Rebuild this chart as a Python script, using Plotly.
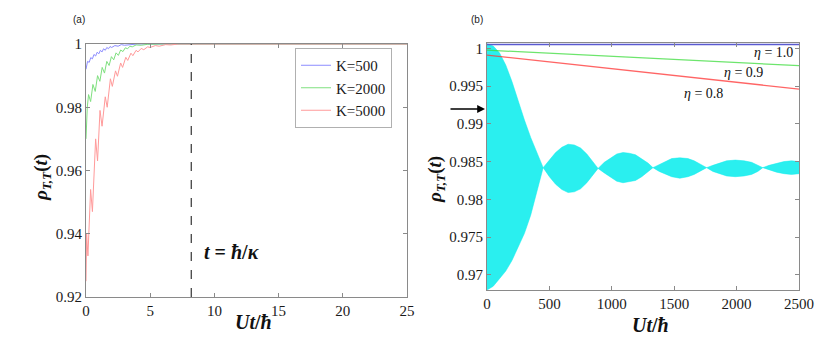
import plotly.graph_objects as go

# ---- panel (a): rho_TT(t) for three K values ----
t_k500 = [0, 0.12, 0.25, 0.37, 0.5, 0.62, 0.75, 0.87, 1.0, 1.12, 1.25, 1.37, 1.5, 1.62,
          1.75, 1.87, 2.0, 2.25, 2.5, 2.75, 3.0, 3.5, 4.0, 25]
rho_k500 = [0.9920, 0.9945, 0.9942, 0.9957, 0.9953, 0.9967, 0.9962, 0.9974, 0.9969, 0.9980,
            0.9975, 0.9985, 0.9980, 0.9989, 0.9985, 0.9992, 0.9989, 0.9995, 0.9993, 0.9998,
            0.9996, 0.9999, 1.0, 1.0]

t_k2000 = [0, 0.1, 0.2, 0.36, 0.54, 0.72, 0.9, 1.08, 1.26, 1.44, 1.62, 1.8, 1.98, 2.16,
           2.34, 2.52, 2.7, 2.88, 3.06, 3.24, 3.42, 3.6, 3.9, 4.3, 4.8, 6.0, 25]
rho_k2000 = [0.9700, 0.9800, 0.9840, 0.9818, 0.9872, 0.9850, 0.9900, 0.9882, 0.9926, 0.9908,
             0.9945, 0.9932, 0.9960, 0.9950, 0.9972, 0.9964, 0.9981, 0.9976, 0.9988, 0.9985,
             0.9993, 0.9991, 0.9997, 0.9996, 0.9999, 1.0, 1.0]

t_k5000 = [0, 0.05, 0.15, 0.36, 0.5, 0.75, 0.9, 1.09, 1.25, 1.5, 1.65, 1.9, 2.05, 2.3, 2.45,
           2.7, 2.85, 3.1, 3.25, 3.5, 3.65, 3.9, 4.05, 4.3, 4.5, 4.8, 5.0, 5.4, 5.7, 6.2,
           6.6, 7.2, 25]
rho_k5000 = [0.9250, 0.9400, 0.9330, 0.9540, 0.9470, 0.9700, 0.9630, 0.9790, 0.9740, 0.9833,
             0.9800, 0.9890, 0.9866, 0.9915, 0.9898, 0.9940, 0.9926, 0.9958, 0.9948, 0.9971,
             0.9963, 0.9980, 0.9975, 0.9986, 0.9982, 0.9991, 0.9989, 0.9995, 0.9993, 0.9998,
             0.9997, 1.0, 1.0]

T_KAPPA = 8.2

# ---- panel (b): envelope of the fast oscillation and eta lines ----
t_env = [0, 50, 100, 150, 200, 250, 300, 350, 400, 450,
         500, 550, 600, 650, 700, 750, 800, 850, 890,
         940, 990, 1040, 1090, 1140, 1190, 1240, 1290, 1330,
         1380, 1430, 1480, 1545, 1610, 1660, 1710, 1760,
         1810, 1860, 1920, 1990, 2060, 2120, 2170, 2210,
         2260, 2320, 2380, 2440, 2500]
rho_upper = [1.0006, 1.0003, 0.9994, 0.9978, 0.9956, 0.9930, 0.9905, 0.9882, 0.9862, 0.9842,
             0.9852, 0.9862, 0.9869, 0.9873, 0.9872, 0.9868, 0.9860, 0.9850, 0.9841,
             0.9849, 0.9855, 0.9860, 0.9862, 0.9861, 0.9859, 0.9854, 0.9848, 0.9842,
             0.9846, 0.9850, 0.9854, 0.9855, 0.9854, 0.9851, 0.9847, 0.9842,
             0.9845, 0.9848, 0.9851, 0.9852, 0.9851, 0.9849, 0.9845, 0.9842,
             0.9845, 0.9848, 0.9850, 0.9851, 0.9850]
rho_lower = [0.9680, 0.9685, 0.9695, 0.9705, 0.9719, 0.9736, 0.9755, 0.9779, 0.9810, 0.9842,
             0.9830, 0.9820, 0.9813, 0.9809, 0.9810, 0.9814, 0.9822, 0.9832, 0.9841,
             0.9835, 0.9829, 0.9824, 0.9822, 0.9823, 0.9825, 0.9830, 0.9836, 0.9842,
             0.9837, 0.9833, 0.9830, 0.9828, 0.9830, 0.9833, 0.9837, 0.9842,
             0.9837, 0.9834, 0.9831, 0.9830, 0.9831, 0.9833, 0.9837, 0.9842,
             0.9839, 0.9836, 0.9834, 0.9833, 0.9834]

t_eta = [0, 2500]
rho_eta10 = [1.0005, 1.0005]
rho_eta09 = [0.99975, 0.9977]
rho_eta08 = [0.9991, 0.9946]

SERIF = "'Liberation Serif', 'Times New Roman', Times, serif"
SANS = "'Liberation Sans', Arial, sans-serif"
GRAY = "#8a8a8a"

# the page puts the figure 8px in from the top-left corner
W, H, OFF = 830, 351, 8


def px(x):
    return (x - OFF) / W


def py(y):
    return 1 - (y - OFF) / H


fig = go.Figure()

fig.add_trace(go.Scatter(x=t_k500, y=rho_k500, mode="lines", name="K=500",
                         line=dict(color="#8c8cff", width=1), xaxis="x", yaxis="y"))
fig.add_trace(go.Scatter(x=t_k2000, y=rho_k2000, mode="lines", name="K=2000",
                         line=dict(color="#7fe07f", width=1), xaxis="x", yaxis="y"))
fig.add_trace(go.Scatter(x=t_k5000, y=rho_k5000, mode="lines", name="K=5000",
                         line=dict(color="#ff9a9a", width=1), xaxis="x", yaxis="y"))
fig.add_trace(go.Scatter(x=[T_KAPPA, T_KAPPA], y=[0.92, 1.0], mode="lines", showlegend=False,
                         line=dict(color="#444444", width=1.3, dash="dash"), xaxis="x", yaxis="y"))

fig.add_trace(go.Scatter(x=t_env, y=rho_upper, mode="lines", showlegend=False,
                         line=dict(color="#12ecec", width=0.5), xaxis="x2", yaxis="y2"))
fig.add_trace(go.Scatter(x=t_env, y=rho_lower, mode="lines", showlegend=False, fill="tonexty",
                         fillcolor="#2aefef", line=dict(color="#12ecec", width=0.5),
                         xaxis="x2", yaxis="y2"))
fig.add_trace(go.Scatter(x=t_eta, y=rho_eta10, mode="lines", showlegend=False,
                         line=dict(color="#5a5ad0", width=1.5), xaxis="x2", yaxis="y2"))
fig.add_trace(go.Scatter(x=t_eta, y=rho_eta09, mode="lines", showlegend=False,
                         line=dict(color="rgba(60,220,60,0.75)", width=1.3), xaxis="x2", yaxis="y2"))
fig.add_trace(go.Scatter(x=t_eta, y=rho_eta08, mode="lines", showlegend=False,
                         line=dict(color="rgba(255,50,50,0.75)", width=1.3), xaxis="x2", yaxis="y2"))

axis_common = dict(showgrid=False, zeroline=False, showline=True, linecolor=GRAY, linewidth=1,
                   mirror="ticks", ticks="inside", ticklen=4, tickcolor=GRAY, automargin=False,
                   tickfont=dict(family=SERIF, size=15, color="#1a1a1a"))

fig.update_layout(
    width=W, height=H,
    margin=dict(l=0, r=0, t=0, b=0, autoexpand=False),
    paper_bgcolor="white", plot_bgcolor="white",
    xaxis=dict(domain=[px(86), px(407)], range=[0, 25], tickvals=[0, 5, 10, 15, 20, 25],
               anchor="y", **axis_common),
    yaxis=dict(domain=[py(297), py(44)], range=[0.92, 1.0],
               tickvals=[0.92, 0.94, 0.96, 0.98, 1.0],
               ticktext=["0.92", "0.94", "0.96", "0.98", "1"], anchor="x", **axis_common),
    xaxis2=dict(domain=[px(487), px(799)], range=[0, 2500],
                tickvals=[0, 500, 1000, 1500, 2000, 2500], anchor="y2", **axis_common),
    yaxis2=dict(domain=[py(290), py(43)], range=[0.968, 1.0007],
                tickvals=[0.97, 0.975, 0.98, 0.985, 0.99, 0.995, 1.0],
                ticktext=["0.97", "0.975", "0.98", "0.985", "0.99", "0.995", "1"],
                anchor="x2", **axis_common),
    legend=dict(x=px(295), y=py(48), xanchor="left", yanchor="top",
                bordercolor="#b0b0b0", borderwidth=1, bgcolor="white",
                font=dict(family=SERIF, size=15, color="#1a1a1a"),
                traceorder="normal", tracegroupgap=0, itemwidth=30),
    showlegend=True,
)

label_font = dict(family=SERIF, size=20, color="#111111")
ylab_font = dict(family=SERIF, size=19, color="#111111")
annotations = [
    dict(text="(a)", x=79, y=20, font=dict(family=SANS, size=10, color="#222")),
    dict(text="(b)", x=477, y=20, font=dict(family=SANS, size=10, color="#222")),
    dict(text="<b><i>Ut</i>/<i>ħ</i></b>", x=253, y=322, font=label_font),
    dict(text="<b><i>Ut</i>/<i>ħ</i></b>", x=650, y=325, font=label_font),
    dict(text="<b><i>ρ</i><sub><i>T,T</i></sub>(<i>t</i>)</b>", x=42, y=178,
         textangle=-90, font=ylab_font),
    dict(text="<b><i>ρ</i><sub><i>T,T</i></sub>(<i>t</i>)</b>", x=436, y=180,
         textangle=-90, font=ylab_font),
    dict(text="<b><i>t</i> = <i>ħ</i>/<i>κ</i></b>", x=231, y=252, font=label_font),
    dict(text="<i>η</i> = 1.0", x=773, y=52, font=dict(family=SERIF, size=14, color="#111")),
    dict(text="<i>η</i> = 0.9", x=743, y=73, font=dict(family=SERIF, size=14, color="#111")),
    dict(text="<i>η</i> = 0.8", x=703, y=94, font=dict(family=SERIF, size=14, color="#111")),
]
for a in annotations:
    fig.add_annotation(xref="paper", yref="paper", x=px(a["x"]), y=py(a["y"]),
                       text=a["text"], showarrow=False, font=a["font"],
                       textangle=a.get("textangle", 0), xanchor="center", yanchor="middle")

fig.add_annotation(xref="paper", yref="paper", x=px(485), y=py(109),
                   ax=-36, ay=0, text="", showarrow=True, arrowhead=2, arrowsize=1.2,
                   arrowwidth=1.3, arrowcolor="black")

fig.write_html("out.html")
